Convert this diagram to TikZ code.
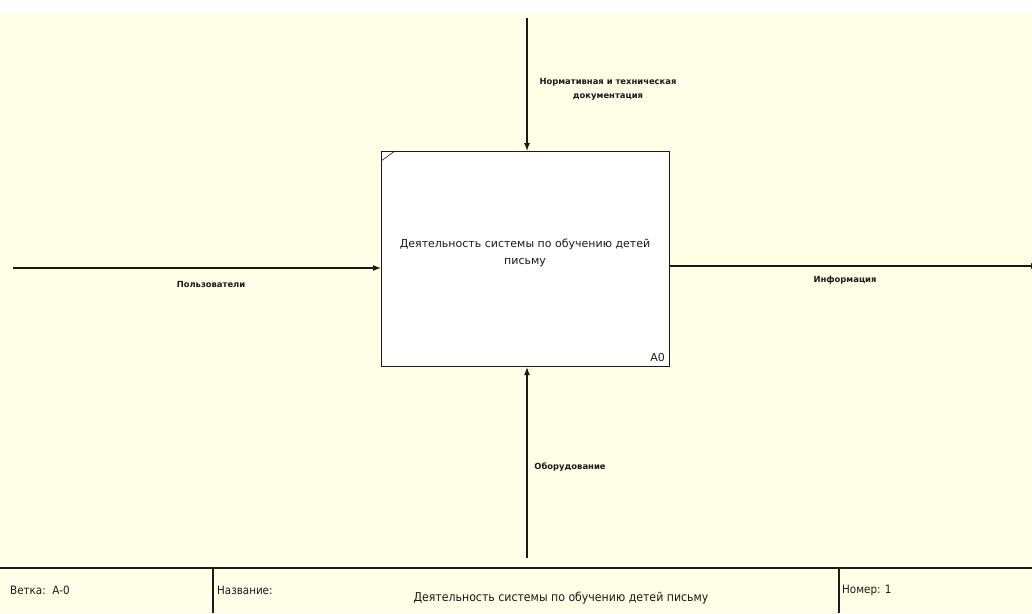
\documentclass[tikz,border=0pt]{standalone}
\usepackage{fontspec}
\setmainfont{DejaVu Sans}
\newfontfamily\condfont{DejaVu Sans Condensed}
\usetikzlibrary{arrows.meta}
\definecolor{paper}{HTML}{FFFFE8}
\definecolor{ink}{HTML}{1A1A1A}
\tikzset{
  flow/.style={draw=ink, line width=1.1pt, -{Latex[length=8pt,width=6pt]}},
  lbl/.style={font=\fontsize{8.4}{14}\selectfont\bfseries, text=ink, inner sep=0pt, align=center},
  foot/.style={font=\condfont\fontsize{11.5}{13}\selectfont, text=ink, inner sep=0pt, anchor=west},
  frame/.style={draw=ink, line width=1.1pt},
}
\begin{document}
\begin{tikzpicture}[x=1pt,y=-1pt]
  \useasboundingbox (0,0) rectangle (1032,613);
  \fill[paper] (0,13) rectangle (1032,613);

  % activity box A0
  \node[draw=ink, line width=1.1pt, fill=white, minimum width=288pt, minimum height=215pt,
        inner sep=0pt, anchor=north west] (act) at (381,151) {};
  \node[font=\fontsize{11}{17}\selectfont, align=center, text=ink] (acttxt) at (525,253)
    {Деятельность системы по обучению детей\\письму};
  \node[font=\fontsize{11}{12}\selectfont, text=ink, anchor=south east, inner sep=0pt] (num) at (665,362) {A0};
  \draw[ink, line width=0.6pt] (381,161) -- (395,151);

  % free ends of the arrows
  \coordinate (ctlsrc) at (527,18);
  \coordinate (mechsrc) at (527,558);
  \coordinate (insrc) at (13,268);
  \coordinate (outdst) at (1039,266);

  % control, mechanism, input, output
  \draw[flow] (ctlsrc) -- (ctlsrc |- act.north);
  \draw[flow] (mechsrc) -- (mechsrc |- act.south);
  \draw[flow] (insrc) -- (insrc -| act.west);
  \draw[flow] (outdst -| act.east) -- (outdst);

  \node[lbl] (ctllbl) at (608,89) {Нормативная и техническая\\документация};
  \node[lbl] (inlbl) at (211,284) {Пользователи};
  \node[lbl] (outlbl) at (845,280) {Информация};
  \node[lbl] (mechlbl) at (570,467) {Оборудование};

  % title block
  \draw[frame] (0,568) -- (1032,568);
  \draw[frame] (213,568) -- (213,613);
  \draw[frame] (839,568) -- (839,613);
  \node[foot] (branch) at (10,590) {Ветка:\ \ А-0};
  \node[foot] (title) at (217,590) {Название:};
  \node[foot, anchor=center, font=\condfont\fontsize{12.2}{13}\selectfont] (titletxt) at (561,598) {Деятельность системы по обучению детей письму};
  \node[foot] (number) at (842,590) {Номер: 1};
\end{tikzpicture}
\end{document}
